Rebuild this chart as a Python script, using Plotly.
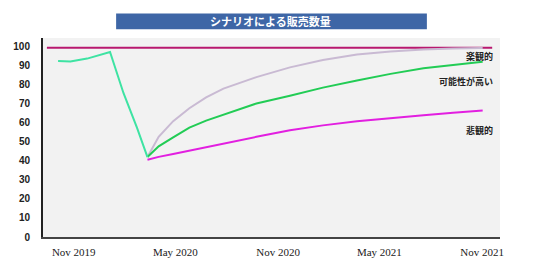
import plotly.graph_objects as go

# ---- data ----
target_dates = ["2019-09-14", "2021-11-19"]
target_values = [99.2, 99.2]

actual_dates = ["2019-10-04", "2019-10-26", "2019-11-25", "2019-12-13", "2020-01-05",
                "2020-01-29", "2020-02-22", "2020-03-12"]
actual_values = [92.3, 92.0, 93.5, 95.2, 97.0, 75.5, 57.5, 41.9]

rec_dates = ["2020-03-12", "2020-04-01", "2020-04-27", "2020-05-26", "2020-06-25",
             "2020-07-26", "2020-09-23", "2020-11-22", "2021-01-20", "2021-03-22",
             "2021-05-21", "2021-07-19", "2021-09-10", "2021-11-02"]
optimistic = [41.9, 52.5, 60.7, 67.5, 73.2, 77.8, 83.8, 88.9, 92.8, 95.7, 97.2, 98.3, 98.8, 99.0]
likely = [41.9, 47.5, 52.2, 57.3, 61.0, 64.0, 70.0, 74.0, 78.3, 82.0, 85.5, 88.4, 90.2, 91.8]
pessimistic = [40.5, 42.0, 43.5, 45.3, 47.2, 49.0, 52.5, 55.9, 58.5, 60.7, 62.4, 63.8, 65.1, 66.3]

title_text = "シナリオによる販売数量"
labels = ["楽観的", "可能性が高い", "悲観的"]
label_y = [94.4, 81.4, 55.7]

fig = go.Figure()
fig.add_trace(go.Scatter(x=target_dates, y=target_values, mode="lines",
                         line=dict(color="#b8186f", width=2), hoverinfo="skip"))
fig.add_trace(go.Scatter(x=rec_dates, y=optimistic, mode="lines",
                         line=dict(color="#c9bad3", width=2)))
fig.add_trace(go.Scatter(x=rec_dates, y=likely, mode="lines",
                         line=dict(color="#22cc55", width=2)))
fig.add_trace(go.Scatter(x=rec_dates, y=pessimistic, mode="lines",
                         line=dict(color="#e21fe0", width=2)))
fig.add_trace(go.Scatter(x=actual_dates, y=actual_values, mode="lines",
                         line=dict(color="#3ee3a3", width=2)))

fig.add_shape(type="rect", xref="paper", yref="paper", x0=0.16, x1=0.84, y0=1.044, y1=1.1225,
              fillcolor="#3e66a6", line=dict(width=0), layer="above")
fig.add_annotation(text=title_text, xref="paper", yref="paper", x=0.497, y=1.083,
                   showarrow=False, xanchor="center", yanchor="middle",
                   font=dict(family="Noto Sans CJK JP", size=11, color="white", weight="bold"))

for t, yv in zip(labels, label_y):
    fig.add_annotation(text=t, xref="paper", yref="y", x=0.988, y=yv, showarrow=False,
                       xanchor="right", yanchor="middle",
                       font=dict(family="Noto Sans CJK JP", size=9, color="#222", weight="bold"))

fig.update_layout(
    width=540, height=270,
    margin=dict(l=43, r=40, t=38, b=28),
    paper_bgcolor="white", plot_bgcolor="#f2f2f2",
    showlegend=False,
    xaxis=dict(type="date", range=["2019-09-07", "2021-12-03"],
               tick0="2019-11-01", dtick="M6", tickformat="%b %Y",
               showgrid=False, zeroline=False,
               showline=True, linecolor="#444", linewidth=2,
               ticks="", ticklabelstandoff=4,
               tickfont=dict(family="Liberation Serif", size=11, color="#222")),
    yaxis=dict(range=[0, 104.3], tick0=0, dtick=10,
               showgrid=False, zeroline=False,
               showline=True, linecolor="#222", linewidth=2,
               ticks="", ticklabelstandoff=9,
               tickfont=dict(family="Liberation Sans", size=10, color="#222", weight="bold")),
)

fig.write_html("out.html")
